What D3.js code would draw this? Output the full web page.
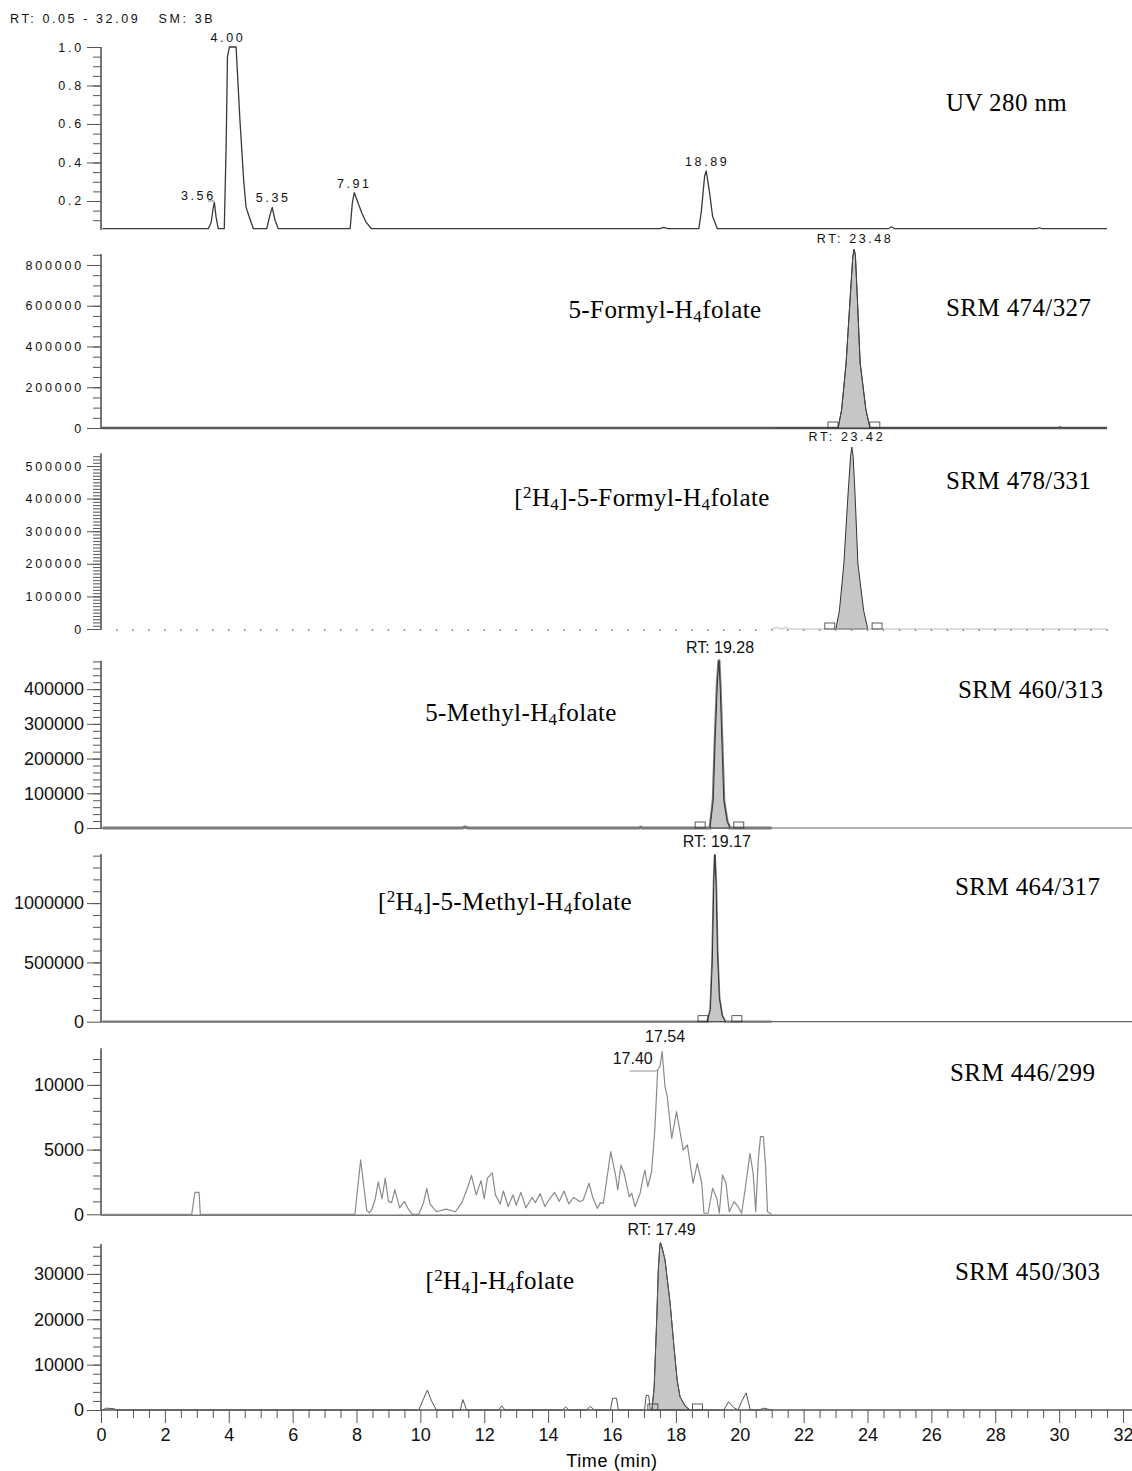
<!DOCTYPE html>
<html>
<head>
<meta charset="utf-8">
<script src="https://cdn.jsdelivr.net/npm/d3@7"></script>
<style>
  body { margin: 0; background: #fff; }
  svg { display: block; }
  .small text { font-family: "Liberation Sans", Arial, sans-serif; font-size: 12.5px; letter-spacing: 2.8px; fill: #111; }
  .big text { font-family: "Liberation Sans", Arial, sans-serif; font-size: 18px; fill: #111; }
  .tick line { stroke: #555; }
  .serif { font-family: "Liberation Serif", "Times New Roman", serif; font-size: 25px; letter-spacing: 0.4px; fill: #000; }
  .plabel { font-family: "Liberation Sans", Arial, sans-serif; font-size: 12.5px; letter-spacing: 2.6px; fill: #111; }
  .plabel16 { font-family: "Liberation Sans", Arial, sans-serif; font-size: 16px; fill: #111; }
</style>
</head>
<body>
<div id="chart"></div>
<script>
// ---- data (time in min, intensity) ----
var timeTicks = d3.range(0, 33, 2);

var uvTrace = [[0.05,0.056],[3.36,0.056],[3.45,0.09],[3.52,0.17],[3.55,0.193],[3.6,0.12],[3.67,0.056],
  [3.86,0.056],[3.92,0.5],[3.96,0.95],[4.02,1.0],[4.23,1.0],[4.35,0.62],[4.47,0.3],[4.54,0.17],[4.57,0.153],
  [4.64,0.118],[4.77,0.056],[5.19,0.056],[5.28,0.12],[5.36,0.167],[5.45,0.1],[5.55,0.056],[7.8,0.056],
  [7.87,0.19],[7.93,0.243],[8.05,0.19],[8.17,0.136],[8.3,0.09],[8.47,0.056],[17.5,0.056],[17.62,0.063],
  [17.75,0.056],[18.72,0.056],[18.8,0.15],[18.9,0.33],[18.95,0.356],[19.05,0.25],[19.15,0.12],[19.3,0.056],
  [24.65,0.056],[24.75,0.066],[24.85,0.056],[29.3,0.056],[29.38,0.061],[29.46,0.056],[31.5,0.056]];
var uvLabels = [{t:3.55, v:0.193, text:"3.56"}, {t:4.1, v:1.0, text:"4.00"}, {t:5.36, v:0.167, text:"5.35"},
  {t:7.93, v:0.243, text:"7.91"}, {t:18.95, v:0.356, text:"18.89"}];

var formylTrace = [[21.1,0],[23.08,0],[23.19,90000],[23.33,319000],[23.46,646000],[23.54,840000],[23.58,877000],
  [23.62,850000],[23.68,646000],[23.77,319000],[23.95,90000],[24.08,0],[29.95,0],[30.02,7000],[30.1,0],[31.5,0]];
var formylBoxes = [22.92, 24.23];

var d4FormylTrace = [[21.0,0],[21.15,5000],[21.3,0],[21.45,4000],[21.6,0],[23.01,0],[23.12,56000],[23.26,200000],
  [23.39,413000],[23.47,530000],[23.51,558000],[23.55,530000],[23.61,413000],[23.7,200000],[23.88,56000],
  [24.01,0],[31.5,0]];
var d4FormylBoxes = [22.82, 24.3];

var methylTrace = [[0.05,0],[11.3,0],[11.4,3000],[11.5,0],[16.85,0],[16.9,3000],[16.95,0],[19.07,0],[19.17,80000],
  [19.23,253000],[19.3,420000],[19.35,482000],[19.39,400000],[19.44,253000],[19.5,80000],[19.6,20000],
  [19.69,0],[21.0,0]];
var methylBoxes = [18.76, 19.97];

var d4MethylTrace = [[0.05,0],[18.98,0],[19.08,100000],[19.14,500000],[19.19,1200000],[19.22,1405000],
  [19.26,1150000],[19.3,600000],[19.36,200000],[19.45,50000],[19.55,0],[21.0,0]];
var d4MethylBoxes = [18.85, 19.91];

var thfTrace = [[0.05,0],[2.84,0],[2.94,1700],[3.07,1700],[3.11,0],[7.95,0],[8.13,4200],[8.32,300],[8.4,120],
  [8.47,330],[8.58,1100],[8.68,2500],[8.8,1200],[8.9,2800],[9.0,1000],[9.1,900],[9.2,1900],[9.35,500],
  [9.5,1000],[9.6,500],[9.75,0],[9.95,0],[10.1,900],[10.2,2000],[10.3,800],[10.5,200],[10.8,400],[11.1,200],
  [11.3,900],[11.5,2200],[11.6,3000],[11.75,1500],[11.9,2600],[12.0,1200],[12.1,2800],[12.25,3200],
  [12.35,1500],[12.5,800],[12.6,1800],[12.75,600],[12.9,1500],[13.0,700],[13.15,1700],[13.3,500],
  [13.5,1300],[13.6,900],[13.75,1600],[13.9,600],[14.05,1200],[14.2,1700],[14.35,1000],[14.5,1800],
  [14.65,800],[14.8,1300],[15.0,970],[15.1,1105],[15.28,2400],[15.39,1360],[15.54,460],[15.64,900],
  [15.73,850],[15.96,4840],[16.12,2900],[16.18,1880],[16.28,3810],[16.38,3170],[16.54,1360],[16.62,1620],
  [16.72,590],[16.88,1620],[16.96,2650],[17.03,3420],[17.12,2130],[17.24,3290],[17.34,6520],[17.43,11150],
  [17.5,11410],[17.57,12570],[17.66,9860],[17.73,9090],[17.87,5870],[18.02,7930],[18.13,6380],[18.23,4970],
  [18.36,5360],[18.54,2400],[18.67,3940],[18.81,2400],[18.88,80],[19.01,80],[19.15,2010],[19.28,1240],
  [19.36,80],[19.46,3040],[19.57,2400],[19.67,200],[19.82,970],[19.95,590],[20.06,80],[20.18,2130],
  [20.32,4720],[20.42,3170],[20.5,200],[20.58,4200],[20.65,6000],[20.74,6000],[20.81,3680],[20.87,200],[21.0,0]];

var d4ThfTrace = [[0.05,0],[0.15,400],[0.4,300],[0.5,0],[9.95,0],[10.1,2500],[10.22,4400],[10.35,2000],[10.5,0],
  [11.25,0],[11.33,2300],[11.45,0],[12.45,0],[12.55,900],[12.65,0],[14.45,0],[14.55,700],[14.65,0],
  [15.2,0],[15.32,800],[15.45,0],[15.95,0],[16.02,2600],[16.14,2600],[16.2,0],[17.02,0],[17.07,3200],
  [17.15,3200],[17.2,0],[17.25,0],[17.32,5000],[17.4,19900],[17.45,30900],[17.5,36500],[17.52,36900],
  [17.56,36000],[17.66,33100],[17.82,23500],[17.94,14000],[18.04,6600],[18.13,2900],[18.3,800],[18.44,0],
  [19.5,0],[19.65,1800],[19.8,600],[19.95,0],[20.06,1900],[20.2,3800],[20.33,0],[20.6,0],[20.75,400],[21.0,0]];
var d4ThfBoxes = [17.28, 18.68];

// ---- drawing ----
var svg = d3.select("#chart")
  .append("svg")
    .attr("width", 1132)
    .attr("height", 1471);

svg.append("rect").attr("width", 1132).attr("height", 1471).attr("fill", "#fff");

var x = d3.scaleLinear().domain([0, 32]).range([101, 1123]);

var line = function(y) {
  return d3.line().x(function (d) { return x(d[0]); }).y(function (d) { return y(d[1]); });
};

function drawYAxis(y, majors, minors, fmt, cls) {
  var g = svg.append("g").attr("transform", "translate(" + x(0) + ",0)");
  g.append("g")
    .call(d3.axisLeft(y).tickValues(minors).tickSize(8).tickSizeOuter(0).tickFormat(""));
  g.append("g")
    .attr("class", cls)
    .call(d3.axisLeft(y).tickValues(majors).tickSize(14).tickSizeOuter(0).tickFormat(fmt));
  g.selectAll(".domain").remove();
  g.selectAll(".tick line").attr("stroke", "#555");
  g.append("line")
    .attr("y1", y.range()[0] + 1).attr("y2", y.range()[1])
    .attr("stroke", "#555").attr("stroke-width", 1.6);
}

function drawTrace(y, data, color, w) {
  svg.append("path")
    .datum(data)
    .attr("fill", "none")
    .attr("stroke", color)
    .attr("stroke-width", w)
    .attr("stroke-linejoin", "round")
    .attr("d", line(y));
}

function drawPeak(y, data, t0, t1) {
  var seg = data.filter(function (d) { return d[0] >= t0 && d[0] <= t1; });
  svg.append("path")
    .datum(seg)
    .attr("fill", "#c6c6c6")
    .attr("stroke", "#333")
    .attr("stroke-width", 1)
    .attr("d", d3.area().x(function (d) { return x(d[0]); }).y0(y(0)).y1(function (d) { return y(d[1]); }));
}

function drawBoxes(y, times) {
  svg.append("g")
    .selectAll("rect")
    .data(times)
    .enter()
    .append("rect")
      .attr("x", function (d) { return x(d) - 5; })
      .attr("y", y(0) - 6)
      .attr("width", 10)
      .attr("height", 6)
      .attr("fill", "none")
      .attr("stroke", "#333")
      .attr("stroke-width", 0.8);
}

function apex(data) {
  return data.reduce(function (a, b) { return b[1] > a[1] ? b : a; });
}

function serifLabel(px, py, parts, anchor) {
  var t = svg.append("text").attr("class", "serif").attr("x", px).attr("y", py)
    .attr("text-anchor", anchor || "start");
  parts.forEach(function (p) {
    var s = t.append("tspan").text(p[0]);
    if (p[1] === "sub") s.attr("font-size", "17px").attr("baseline-shift", "-4");
    if (p[1] === "sup") s.attr("font-size", "17px").attr("baseline-shift", "8");
  });
}

var fmtInt = d3.format("d");

// header
svg.append("text")
  .attr("class", "plabel")
  .attr("x", 10).attr("y", 23)
  .style("white-space", "pre")
  .text("RT: 0.05 - 32.09   SM: 3B");

// Panel 1: UV 280 nm
var y1 = d3.scaleLinear().domain([0.0545, 1.0]).range([229, 47]);
drawYAxis(y1, [0.2, 0.4, 0.6, 0.8, 1.0], d3.range(0.1, 0.96, 0.05), d3.format(".1f"), "small");
drawTrace(y1, uvTrace, "#3a3a3a", 1.3);
svg.append("g").selectAll("text").data(uvLabels).enter().append("text")
  .attr("class", "plabel")
  .attr("x", function (d, i) { return x(d.t) + [-16, -4, 1, 0, 1][i]; })
  .attr("y", function (d, i) { return y1(d.v) - (i === 0 ? 2 : 5); })
  .attr("text-anchor", "middle")
  .text(function (d) { return d.text; });
svg.append("line").attr("x1", x(3.35)).attr("x2", x(3.55)).attr("y1", y1(0.2)).attr("y2", y1(0.2))
  .attr("stroke", "#555").attr("stroke-width", 0.8);
serifLabel(946, 111, [["UV 280 nm"]]);

// Panel 2: SRM 474/327
var y2 = d3.scaleLinear().domain([0, 854000]).range([428, 254]);
drawYAxis(y2, d3.range(0, 800001, 200000), d3.range(50000, 854000, 50000), fmtInt, "small");
svg.append("line").attr("x1", x(0)).attr("x2", x(31.5)).attr("y1", y2(0)).attr("y2", y2(0))
  .attr("stroke", "#5a5a5a").attr("stroke-width", 2.5);
drawPeak(y2, formylTrace, 23.0, 24.1);
drawTrace(y2, formylTrace, "#444", 1);
drawBoxes(y2, formylBoxes);
var a2 = apex(formylTrace);
svg.append("text").attr("class", "plabel").attr("text-anchor", "middle")
  .attr("x", x(a2[0]) + 1).attr("y", y2(a2[1]) - 6).text("RT: 23.48");
serifLabel(665, 318, [["5-Formyl-H"], ["4", "sub"], ["folate"]], "middle");
serifLabel(946, 316, [["SRM 474/327"]]);

// Panel 3: SRM 478/331
var y3 = d3.scaleLinear().domain([0, 539000]).range([629, 453.3]);
drawYAxis(y3, d3.range(0, 500001, 100000), d3.range(10000, 539000, 10000), fmtInt, "small");
svg.append("g").selectAll("rect").data(d3.range(0.5, 31.6, 0.5)).enter().append("rect")
  .attr("x", function (d) { return x(d) - 0.7; }).attr("y", y3(0))
  .attr("width", 1.4).attr("height", 2).attr("fill", "#888");
drawPeak(y3, d4FormylTrace, 22.9, 24.1);
drawTrace(y3, d4FormylTrace.filter(function (d) { return d[0] < 23.0 || d[0] > 24.02; }), "#bbb", 1);
drawBoxes(y3, d4FormylBoxes);
var a3 = apex(d4FormylTrace);
svg.append("text").attr("class", "plabel").attr("text-anchor", "middle")
  .attr("x", x(a3[0]) - 5).attr("y", y3(a3[1]) - 6).text("RT: 23.42");
serifLabel(642, 506, [["["], ["2", "sup"], ["H"], ["4", "sub"], ["]-5-Formyl-H"], ["4", "sub"], ["folate"]], "middle");
serifLabel(946, 489, [["SRM 478/331"]]);

// Panel 4: SRM 460/313
var y4 = d3.scaleLinear().domain([0, 482000]).range([828, 660.7]);
drawYAxis(y4, d3.range(0, 400001, 100000), d3.range(20000, 482000, 20000), fmtInt, "big");
svg.append("line").attr("x1", x(0)).attr("x2", 1132).attr("y1", y4(0)).attr("y2", y4(0))
  .attr("stroke", "#666").attr("stroke-width", 1.2);
drawTrace(y4, methylTrace, "#7a7a7a", 3);
drawPeak(y4, methylTrace, 19.0, 19.7);
drawBoxes(y4, methylBoxes);
var a4 = apex(methylTrace);
svg.append("text").attr("class", "plabel16").attr("text-anchor", "middle")
  .attr("x", x(a4[0]) + 1).attr("y", y4(a4[1]) - 8).text("RT: 19.28");
serifLabel(521, 721, [["5-Methyl-H"], ["4", "sub"], ["folate"]], "middle");
serifLabel(958, 698, [["SRM 460/313"]]);

// Panel 5: SRM 464/317
var y5 = d3.scaleLinear().domain([0, 1414000]).range([1021.7, 854]);
drawYAxis(y5, [0, 500000, 1000000], d3.range(100000, 1414000, 100000), fmtInt, "big");
svg.append("line").attr("x1", x(0)).attr("x2", 1132).attr("y1", y5(0)).attr("y2", y5(0))
  .attr("stroke", "#666").attr("stroke-width", 1.2);
drawTrace(y5, d4MethylTrace, "#777", 2.2);
drawPeak(y5, d4MethylTrace, 18.9, 19.6);
drawBoxes(y5, d4MethylBoxes);
var a5 = apex(d4MethylTrace);
svg.append("text").attr("class", "plabel16").attr("text-anchor", "middle")
  .attr("x", x(a5[0]) + 2).attr("y", y5(a5[1]) - 8).text("RT: 19.17");
serifLabel(505, 910, [["["], ["2", "sup"], ["H"], ["4", "sub"], ["]-5-Methyl-H"], ["4", "sub"], ["folate"]], "middle");
serifLabel(955, 895, [["SRM 464/317"]]);

// Panel 6: SRM 446/299
var y6 = d3.scaleLinear().domain([0, 12830]).range([1214.3, 1048.3]);
drawYAxis(y6, [0, 5000, 10000], d3.range(1000, 12830, 1000), fmtInt, "big");
svg.append("line").attr("x1", x(0)).attr("x2", 1132).attr("y1", y6(0) + 1).attr("y2", y6(0) + 1)
  .attr("stroke", "#777").attr("stroke-width", 1.5);
drawTrace(y6, thfTrace, "#8a8a8a", 1.2);
svg.append("text").attr("class", "plabel16").attr("text-anchor", "middle")
  .attr("x", x(17.57) + 3).attr("y", y6(12570) - 10).text("17.54");
svg.append("text").attr("class", "plabel16").attr("text-anchor", "middle")
  .attr("x", x(17.43) - 25).attr("y", y6(11150) - 6).text("17.40");
svg.append("polyline")
  .attr("points", [[x(17.43) - 28, y6(11150) + 1], [x(17.43) - 2, y6(11150) + 1], [x(17.43), y6(11150)]].join(" "))
  .attr("fill", "none").attr("stroke", "#777").attr("stroke-width", 0.8);
serifLabel(950, 1081, [["SRM 446/299"]]);

// Panel 7: SRM 450/303 with time axis
var y7 = d3.scaleLinear().domain([0, 36600]).range([1410, 1244]);
drawYAxis(y7, [0, 10000, 20000, 30000], d3.range(2000, 36600, 2000), fmtInt, "big");
drawPeak(y7, d4ThfTrace, 17.22, 18.5);
drawTrace(y7, d4ThfTrace, "#555", 1);
drawBoxes(y7, d4ThfBoxes);
var a7 = apex(d4ThfTrace);
svg.append("text").attr("class", "plabel16").attr("text-anchor", "middle")
  .attr("x", x(a7[0]) + 1).attr("y", y7(a7[1]) - 8).text("RT: 17.49");
serifLabel(500, 1289, [["["], ["2", "sup"], ["H"], ["4", "sub"], ["]-H"], ["4", "sub"], ["folate"]], "middle");
serifLabel(955, 1280, [["SRM 450/303"]]);

// Add X axis
var gx = svg.append("g").attr("transform", "translate(0," + y7(0) + ")");
gx.append("g")
  .call(d3.axisBottom(x).tickValues(d3.range(0.5, 32, 1)).tickSize(8).tickSizeOuter(0).tickFormat(""));
gx.append("g")
  .call(d3.axisBottom(x).tickValues(d3.range(1, 32, 2)).tickSize(8).tickSizeOuter(0).tickFormat(""));
gx.append("g")
  .attr("class", "big")
  .call(d3.axisBottom(x).tickValues(timeTicks).tickSize(13).tickSizeOuter(0).tickPadding(5));
gx.selectAll(".domain").remove();
gx.selectAll(".tick line").attr("stroke", "#555");
gx.append("line").attr("x1", x(0)).attr("x2", 1132).attr("stroke", "#555").attr("stroke-width", 1.6);

svg.append("text")
  .attr("x", 612).attr("y", 1467)
  .attr("text-anchor", "middle")
  .style("font-family", "'Liberation Sans', Arial, sans-serif")
  .style("font-size", "18px")
  .style("letter-spacing", "0.6px")
  .text("Time (min)");
</script>
</body>
</html>
